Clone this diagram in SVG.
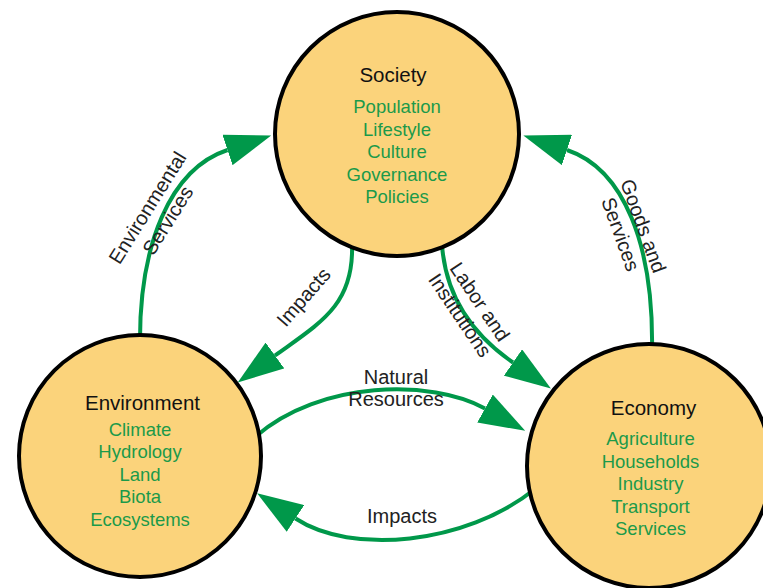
<svg xmlns="http://www.w3.org/2000/svg" width="763" height="588" viewBox="0 0 763 588">
<style>
.node{fill:#FBD37B;stroke:#000;stroke-width:4}
.title{font-family:"Liberation Sans",Arial,sans-serif;font-size:20.5px;fill:#111;text-anchor:middle}
.item{font-family:"Liberation Sans",Arial,sans-serif;font-size:18.5px;fill:#1B9A4A;text-anchor:middle}
.conn{fill:none;stroke:#00984A;stroke-width:4;marker-end:url(#arr)}
.lbl{font-family:"Liberation Sans",Arial,sans-serif;font-size:20px;fill:#222;text-anchor:middle}
</style>
<defs>
<marker id="arr" markerUnits="userSpaceOnUse" viewBox="0 0 46 32" refX="0" refY="16" markerWidth="46" markerHeight="32" orient="auto">
<path d="M0,0 L46,16 L0,32 Z" fill="#00984A"/>
</marker>
</defs>
<g id="connectors">
<path class="conn" d="M140,345 C139,245 170,169 227.5,150"/>
<path class="conn" d="M652,352 C654,245 624,169 567,150"/>
<path class="conn" d="M352,245 C354,305 320,323 275,355.5"/>
<path class="conn" d="M442,245 C446,300 476,337 513,362.5"/>
<path class="conn" d="M255,437 C320,380 432,379 485,408.5"/>
<path class="conn" d="M535,489 C465,545 351,555 295.5,518.5"/>
<text class="lbl" transform="translate(157.5,214) rotate(-58)"><tspan x="0" y="-5">Environmental</tspan><tspan x="0" y="19">Services</tspan></text>
<text class="lbl" transform="translate(632,230) rotate(70)"><tspan x="0" y="-5">Goods and</tspan><tspan x="0" y="19">Services</tspan></text>
<text class="lbl" transform="translate(303.5,297) rotate(-49)"><tspan x="0" y="7">Impacts</tspan></text>
<text class="lbl" transform="translate(470,308.5) rotate(56)"><tspan x="0" y="-5">Labor and</tspan><tspan x="0" y="19">Institutions</tspan></text>
<text class="lbl"><tspan x="396" y="384">Natural</tspan><tspan x="396" y="406">Resources</tspan></text>
<text class="lbl" x="402" y="523">Impacts</text>
</g>
<g id="society">
<circle class="node" cx="397" cy="134" r="122"/>
<text class="title" x="393" y="82">Society</text>
<text class="item"><tspan x="397" y="113.3">Population</tspan><tspan x="397" y="135.8">Lifestyle</tspan><tspan x="397" y="158.3">Culture</tspan><tspan x="397" y="180.8">Governance</tspan><tspan x="397" y="203.3">Policies</tspan></text>
</g>
<g id="environment">
<circle class="node" cx="140" cy="456" r="121"/>
<text class="title" x="142.5" y="410">Environment</text>
<text class="item"><tspan x="140" y="435.7">Climate</tspan><tspan x="140" y="458.2">Hydrology</tspan><tspan x="140" y="480.7">Land</tspan><tspan x="140" y="503.2">Biota</tspan><tspan x="140" y="525.7">Ecosystems</tspan></text>
</g>
<g id="economy">
<circle class="node" cx="649" cy="466" r="122"/>
<text class="title" x="653.5" y="415">Economy</text>
<text class="item"><tspan x="650.5" y="445">Agriculture</tspan><tspan x="650.5" y="467.5">Households</tspan><tspan x="650.5" y="490">Industry</tspan><tspan x="650.5" y="512.5">Transport</tspan><tspan x="650.5" y="535">Services</tspan></text>
</g>
</svg>
